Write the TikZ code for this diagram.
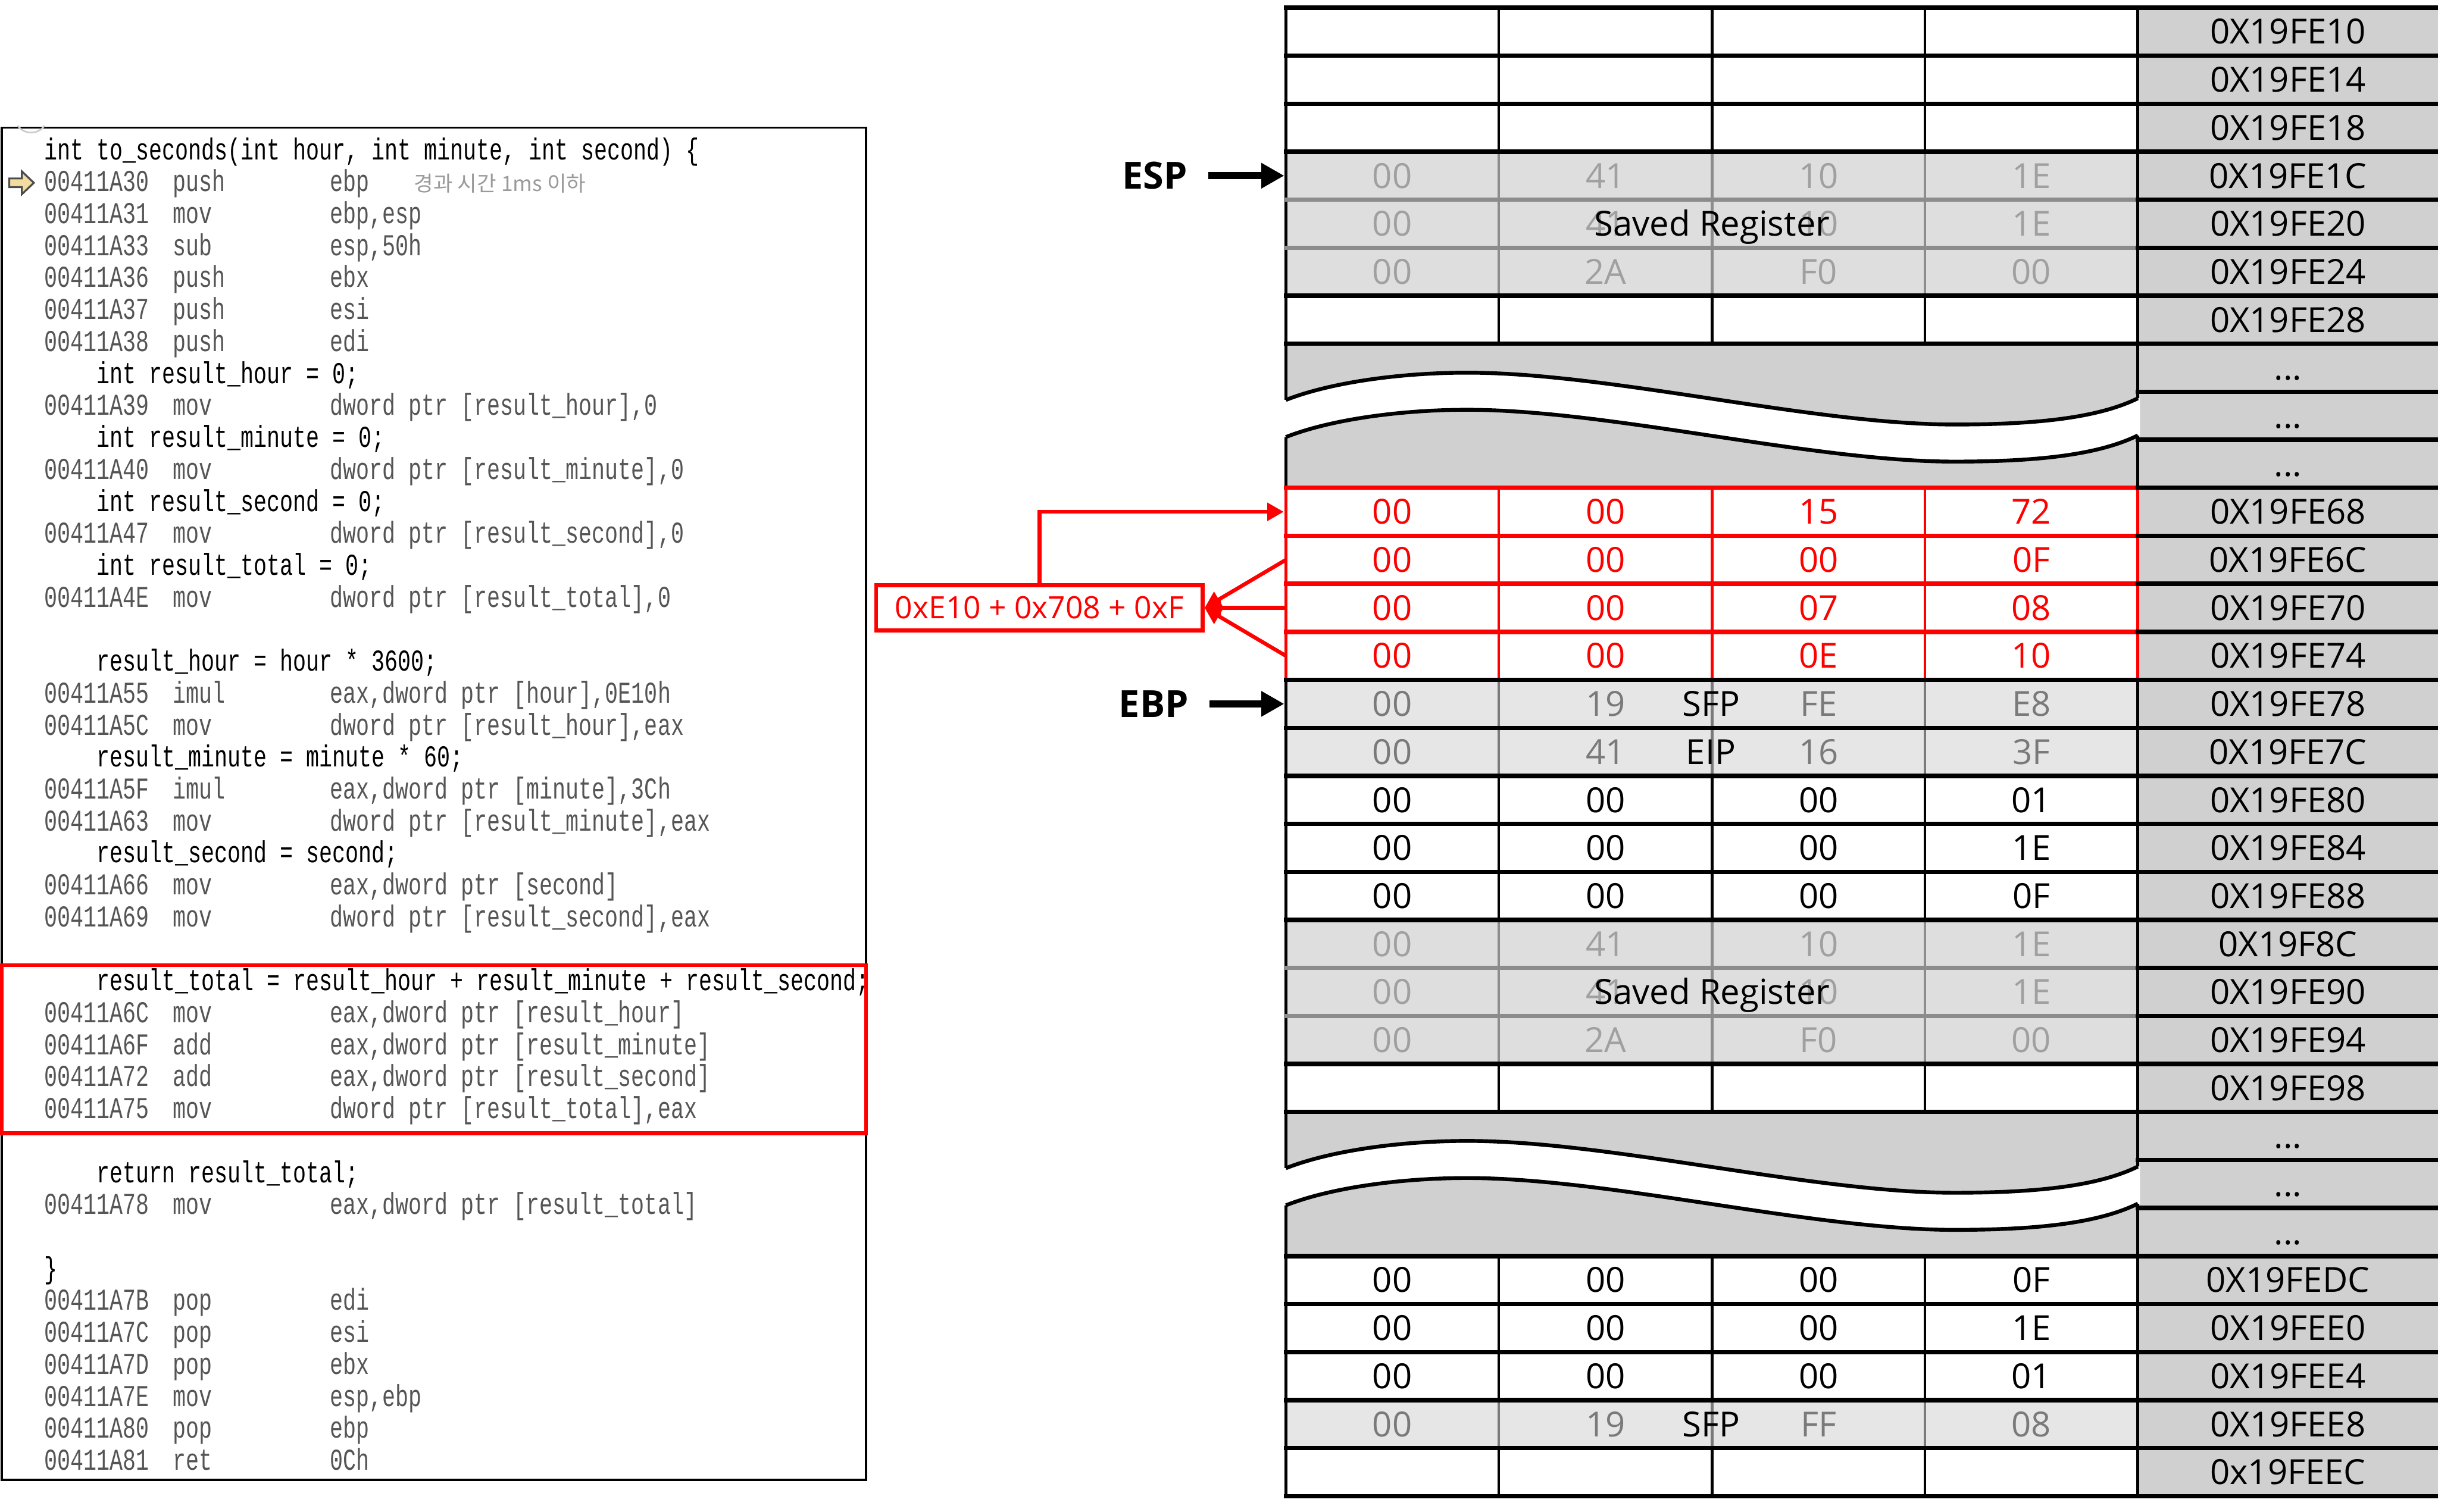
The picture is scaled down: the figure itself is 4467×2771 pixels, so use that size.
\documentclass[tikz,border=0pt]{standalone}
\usepackage{fontspec}
\setmainfont{Open Sans}
\newfontfamily\codefont[FakeStretch=0.72]{Liberation Mono}
\newfontfamily\krfont{Noto Sans CJK KR}
\usetikzlibrary{arrows.meta}
\definecolor{addrfill}{HTML}{D0D0D0}
\definecolor{wavefill}{HTML}{D0D0D0}
\definecolor{srfill}{HTML}{DEDEDE}
\definecolor{sfpfill}{HTML}{E6E6E6}
\definecolor{srline}{HTML}{8C8C8C}
\definecolor{sfpline}{HTML}{7A7A7A}
\definecolor{srtext}{HTML}{A0A0A0}
\definecolor{sfptext}{HTML}{7A7A7A}
\definecolor{asmgray}{HTML}{555555}
\definecolor{cmtgray}{HTML}{9A9A9A}
\definecolor{hlred}{HTML}{FF0000}
\definecolor{iconfill}{HTML}{F2DCA0}
\newcommand\asmln[4]{\node[asmtext] (L#1) at (80,{292.4+(#1-1)*58.58}) {\makebox[2.36cm][l]{#2}\makebox[2.88cm][l]{#3}#4};}
\newcommand\srcln[3]{\node[srctext] (L#1) at (#2,{292.4+(#1-1)*58.58}) {#3};}
\newcommand\waveband[1]{%
\fill[white] (2350,{733+#1}) -- (2356,{733+#1}) .. controls (2440,{700+#1}) and (2570,{683+#1}) .. (2688,{683+#1}) .. controls (2950,{683+#1}) and (3320,{778+#1}) .. (3581,{778+#1}) .. controls (3720,{778+#1}) and (3840,{768+#1}) .. (3917,{730+#1}) -- (3921,{730+#1}) -- (3921,{798+#1}) -- (3917,{798+#1}) .. controls (3840,{836+#1}) and (3720,{846+#1}) .. (3581,{846+#1}) .. controls (3320,{846+#1}) and (2950,{751+#1}) .. (2688,{751+#1}) .. controls (2570,{751+#1}) and (2440,{768+#1}) .. (2356,{801+#1}) -- (2350,{801+#1}) -- cycle;
\draw[waveline] (2356,{733+#1}) .. controls (2440,{700+#1}) and (2570,{683+#1}) .. (2688,{683+#1}) .. controls (2950,{683+#1}) and (3320,{778+#1}) .. (3581,{778+#1}) .. controls (3720,{778+#1}) and (3840,{768+#1}) .. (3917,{730+#1});
\draw[waveline] (2356,{801+#1}) .. controls (2440,{768+#1}) and (2570,{751+#1}) .. (2688,{751+#1}) .. controls (2950,{751+#1}) and (3320,{846+#1}) .. (3581,{846+#1}) .. controls (3720,{846+#1}) and (3840,{836+#1}) .. (3917,{798+#1});}
\begin{document}
\begin{tikzpicture}[x=0.01cm,y=-0.01cm,
 asmtext/.style={anchor=base west,inner sep=0pt,text=asmgray,font=\codefont\fontsize{15.8pt}{18pt}\selectfont},
 srctext/.style={anchor=base west,inner sep=0pt,text=black,font=\codefont\fontsize{15.8pt}{18pt}\selectfont},
 celltext/.style={anchor=base,inner sep=0pt,font=\fontsize{18pt}{21pt}\selectfont},
 reglabel/.style={anchor=center,inner sep=0pt,font=\bfseries\fontsize{19.5pt}{22pt}\selectfont},
 bigarrow/.style={line width=0.13cm,-{Triangle[length=0.42cm,width=0.44cm]}},
 redarrow/.style={draw=hlred,line width=0.07cm,-{Triangle[length=0.3cm,width=0.32cm]}},
 redbox/.style={draw=hlred,line width=0.07cm,text=hlred,minimum width=5.98cm,minimum height=0.83cm,inner sep=0pt,font=\fontsize{16pt}{19pt}\selectfont},
 hline/.style={line width=0.08cm,line cap=rect},
 vline/.style={line width=0.05cm},
 waveline/.style={line width=0.07cm}]
\useasboundingbox (0,0) rectangle (4467,2771);
\fill[white] (0,0) rectangle (4467,2771);
% ---------------- code listing ----------------
\draw[line width=0.04cm] (3,234) rectangle (1587,2712);
\draw[black!20,line width=0.03cm] (57,213) ++(35:30) arc (35:145:30);
\filldraw[fill=iconfill,draw=black!70,line width=0.035cm] (17,327) -- (40,327) -- (40,314) -- (62,335) -- (40,356) -- (40,343) -- (17,343) -- cycle;
\srcln{1}{80}{int to\_seconds(int hour, int minute, int second) \{}
\asmln{2}{00411A30}{push}{ebp}
\node[anchor=base west,inner sep=0pt,text=cmtgray,font=\krfont\fontsize{11pt}{13pt}\selectfont] (cmt) at (758,{292.4+58.58}) {경과 시간 1ms 이하};
\asmln{3}{00411A31}{mov}{ebp,esp}
\asmln{4}{00411A33}{sub}{esp,50h}
\asmln{5}{00411A36}{push}{ebx}
\asmln{6}{00411A37}{push}{esi}
\asmln{7}{00411A38}{push}{edi}
\srcln{8}{176}{int result\_hour = 0;}
\asmln{9}{00411A39}{mov}{dword ptr [result\_hour],0}
\srcln{10}{176}{int result\_minute = 0;}
\asmln{11}{00411A40}{mov}{dword ptr [result\_minute],0}
\srcln{12}{176}{int result\_second = 0;}
\asmln{13}{00411A47}{mov}{dword ptr [result\_second],0}
\srcln{14}{176}{int result\_total = 0;}
\asmln{15}{00411A4E}{mov}{dword ptr [result\_total],0}
\srcln{17}{176}{result\_hour = hour * 3600;}
\asmln{18}{00411A55}{imul}{eax,dword ptr [hour],0E10h}
\asmln{19}{00411A5C}{mov}{dword ptr [result\_hour],eax}
\srcln{20}{176}{result\_minute = minute * 60;}
\asmln{21}{00411A5F}{imul}{eax,dword ptr [minute],3Ch}
\asmln{22}{00411A63}{mov}{dword ptr [result\_minute],eax}
\srcln{23}{176}{result\_second = second;}
\asmln{24}{00411A66}{mov}{eax,dword ptr [second]}
\asmln{25}{00411A69}{mov}{dword ptr [result\_second],eax}
\srcln{27}{176}{result\_total = result\_hour + result\_minute + result\_second;}
\asmln{28}{00411A6C}{mov}{eax,dword ptr [result\_hour]}
\asmln{29}{00411A6F}{add}{eax,dword ptr [result\_minute]}
\asmln{30}{00411A72}{add}{eax,dword ptr [result\_second]}
\asmln{31}{00411A75}{mov}{dword ptr [result\_total],eax}
\srcln{33}{176}{return result\_total;}
\asmln{34}{00411A78}{mov}{eax,dword ptr [result\_total]}
\srcln{36}{80}{\}}
\asmln{37}{00411A7B}{pop}{edi}
\asmln{38}{00411A7C}{pop}{esi}
\asmln{39}{00411A7D}{pop}{ebx}
\asmln{40}{00411A7E}{mov}{esp,ebp}
\asmln{41}{00411A80}{pop}{ebp}
\asmln{42}{00411A81}{ret}{0Ch}
\draw[hlred,line width=0.07cm] (3,1769) rectangle (1587,2077);
% ---------------- stack table ----------------
\fill[addrfill] (3917,14) rectangle (4467,2742);
\fill[srfill] (2356,278) rectangle (3917,542);
\fill[srfill] (2356,1686) rectangle (3917,1950);
\fill[sfpfill] (2356,1246) rectangle (3917,1422);
\fill[sfpfill] (2356,2566) rectangle (3917,2654);
\fill[wavefill] (2356,630) rectangle (3917,894);
\fill[wavefill] (2356,2038) rectangle (3917,2302);
% vertical lines
\foreach \x in {2746,3137,3527}{
  \foreach \ya/\yb in {14/278,542/630,1422/1686,1950/2038,2302/2566,2654/2742}{\draw[vline] (\x,\ya) -- (\x,\yb);}
  \foreach \ya/\yb in {278/542,1686/1950}{\draw[vline,srline] (\x,\ya) -- (\x,\yb);}
  \foreach \ya/\yb in {1246/1422,2566/2654}{\draw[vline,sfpline] (\x,\ya) -- (\x,\yb);}
  \draw[vline,hlred] (\x,894) -- (\x,1246);
}
\foreach \x in {2356,3917}{
  \draw[vline] (\x,14) -- (\x,894);
  \draw[vline] (\x,1246) -- (\x,2742);
  \draw[vline,hlred] (\x,894) -- (\x,1246);
}
% horizontal lines
\foreach \k in {1,2,3,4,7,8,15,16,17,18,19,20,23,24,27,28,29,30,31,32}{\draw[hline] (2356,{88*\k-74}) -- (3917,{88*\k-74});}
\foreach \k in {5,6,21,22}{\draw[hline,srline] (2356,{88*\k-74}) -- (3917,{88*\k-74});}
\foreach \k in {11,12,13,14}{\draw[hline,hlred] (2356,{88*\k-74}) -- (3917,{88*\k-74});}
\foreach \k in {1,...,32}{\draw[hline] (3917,{88*\k-74}) -- (4467,{88*\k-74});}
% breaks
\waveband{0}
\waveband{1408}
% addresses
\foreach \k/\t in {1/0X19FE10,2/0X19FE14,3/0X19FE18,4/0X19FE1C,5/0X19FE20,6/0X19FE24,7/0X19FE28,11/0X19FE68,12/0X19FE6C,13/0X19FE70,14/0X19FE74,15/0X19FE78,16/0X19FE7C,17/0X19FE80,18/0X19FE84,19/0X19FE88,20/0X19F8C,21/0X19FE90,22/0X19FE94,23/0X19FE98,27/0X19FEDC,28/0X19FEE0,29/0X19FEE4,30/0X19FEE8,31/0x19FEEC}
  {\node[celltext] (a\k) at (4192,{88*\k-7.4}) {\t};}
\foreach \k in {8,9,10,24,25,26}{\node[celltext] (a\k) at (4192,{88*\k-7.4}) {...};}
% bytes
\foreach \k/\b/\c/\d/\e/\col in {4/00/41/10/1E/srtext,5/00/41/10/1E/srtext,6/00/2A/F0/00/srtext,11/00/00/15/72/hlred,12/00/00/00/0F/hlred,13/00/00/07/08/hlred,14/00/00/0E/10/hlred,15/00/19/FE/E8/sfptext,16/00/41/16/3F/sfptext,17/00/00/00/01/black,18/00/00/00/1E/black,19/00/00/00/0F/black,20/00/41/10/1E/srtext,21/00/41/10/1E/srtext,22/00/2A/F0/00/srtext,27/00/00/00/0F/black,28/00/00/00/1E/black,29/00/00/00/01/black,30/00/19/FF/08/sfptext}
{
  \node[celltext,text=\col] (d\k-1) at (2551,{88*\k-7.4}) {\b};
  \node[celltext,text=\col] (d\k-2) at (2941.5,{88*\k-7.4}) {\c};
  \node[celltext,text=\col] (d\k-3) at (3332,{88*\k-7.4}) {\d};
  \node[celltext,text=\col] (d\k-4) at (3722,{88*\k-7.4}) {\e};
}
\node[celltext] (sr1) at (3137,{88*5-7.4}) {Saved Register};
\node[celltext] (sr2) at (3137,{88*21-7.4}) {Saved Register};
\node[celltext] (sfp1) at (3135,{88*15-7.4}) {SFP};
\node[celltext] (eip) at (3135,{88*16-7.4}) {EIP};
\node[celltext] (sfp2) at (3135,{88*30-7.4}) {SFP};
% ESP / EBP
\node[reglabel] (esp) at (2116,322) {ESP};
\node[reglabel] (ebp) at (2114,1290) {EBP};
\coordinate (esptip) at (2353,322);
\coordinate (ebptip) at (2353,1290);
\draw[bigarrow,shorten <=0.38cm] (esp.east) -- (esptip);
\draw[bigarrow,shorten <=0.38cm] (ebp.east) -- (ebptip);
% red sum box
\node[redbox] (sum) at (1904.5,1114) {0xE10 + 0x708 + 0xF};
\coordinate (r11w) at (2352,938);
\coordinate (r12w) at (2356,1026);
\coordinate (r13w) at (2356,1114);
\coordinate (r14w) at (2356,1202);
\draw[redarrow] (sum.north) |- (r11w);
\draw[redarrow] (r12w) -- (sum.east);
\draw[redarrow] (r13w) -- (sum.east);
\draw[redarrow] (r14w) -- (sum.east);
\end{tikzpicture}
\end{document}
